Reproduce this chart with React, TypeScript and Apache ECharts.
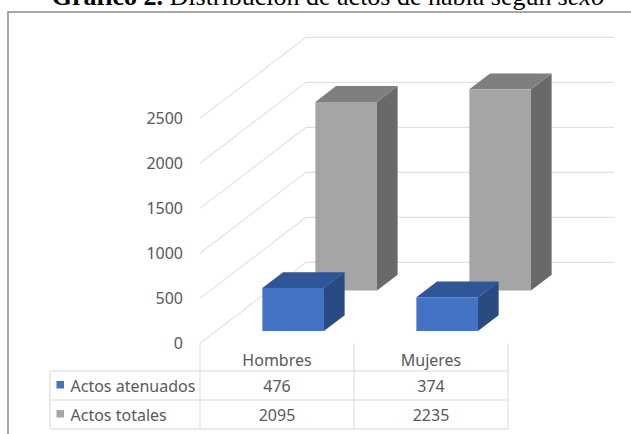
import React, { useEffect, useRef } from "react";
import * as echarts from "echarts";

// Data
const categories = ["Hombres", "Mujeres"];
const seriesNames = ["Actos atenuados", "Actos totales"];
const actosAtenuados = [476, 374];
const actosTotales = [2095, 2235];
const yTicks = [0, 500, 1000, 1500, 2000, 2500];

const seriesValues = [actosAtenuados, actosTotales];

// Styling / 3D projection
const DEPTH_X = 106;
const DEPTH_Y = -81;
const BAR_WIDTH_RATIO = 0.4;
const BAR_DEPTH = 0.195;
const ROW_CENTERS = [0.25, 0.75];
const FACE_COLORS = [
  { front: "#4472C4", top: "#30569A", side: "#2A4A82" },
  { front: "#A5A5A5", top: "#7F7F7F", side: "#696969" },
];
const GRID_COLOR = "#d9d9d9";
const TEXT_COLOR = "#595959";
const FONT = "Noto Sans";
const FONT_SIZE = 16;
const HEADER_H = 27.7;
const ROW_H = 29;
const LEGEND_COL_W = 150;

function wallRenderItem(params: any, api: any) {
  const v = api.value(1);
  const band = api.size([1, 0])[0];
  const first = api.coord([0, v]);
  const last = api.coord([categories.length - 1, v]);
  const x0 = first[0] - band / 2;
  const x1 = last[0] + band / 2;
  const y = first[1];
  return {
    type: "polyline",
    shape: {
      points: [
        [x0, y],
        [x0 + DEPTH_X, y + DEPTH_Y],
        [x1 + DEPTH_X, y + DEPTH_Y],
      ],
    },
    style: { stroke: GRID_COLOR, lineWidth: 1, fill: "none" },
    silent: true,
  };
}

function makeBarRenderItem(row: number) {
  return function (params: any, api: any) {
    const cat = api.value(0);
    const val = api.value(1);
    const band = api.size([1, 0])[0];
    const base = api.coord([cat, 0]);
    const topP = api.coord([cat, val]);
    const w = band * BAR_WIDTH_RATIO;
    const f = ROW_CENTERS[row] - BAR_DEPTH / 2;
    const xL = base[0] - w / 2 + f * DEPTH_X;
    const yB = base[1] + f * DEPTH_Y;
    const yT = topP[1] + f * DEPTH_Y;
    const dx = BAR_DEPTH * DEPTH_X;
    const dy = BAR_DEPTH * DEPTH_Y;
    const c = FACE_COLORS[row];
    return {
      type: "group",
      children: [
        {
          type: "polygon",
          shape: {
            points: [
              [xL + w, yT],
              [xL + w, yB],
              [xL + w + dx, yB + dy],
              [xL + w + dx, yT + dy],
            ],
          },
          style: { fill: c.side },
        },
        {
          type: "polygon",
          shape: {
            points: [
              [xL, yT],
              [xL + w, yT],
              [xL + w + dx, yT + dy],
              [xL + dx, yT + dy],
            ],
          },
          style: { fill: c.top },
        },
        {
          type: "rect",
          shape: { x: xL, y: yT, width: w, height: yB - yT },
          style: { fill: c.front },
        },
      ],
    };
  };
}

function tableFrameRenderItem(params: any, api: any) {
  const band = api.size([1, 0])[0];
  const first = api.coord([0, 0]);
  const last = api.coord([categories.length - 1, 0]);
  const floorY = first[1];
  const x0 = first[0] - band / 2;
  const x1 = last[0] + band / 2;
  const xl = x0 - LEGEND_COL_W;
  const tableTop = floorY + HEADER_H;
  const tableBottom = tableTop + ROW_H * seriesNames.length;
  const lineStyle = { stroke: GRID_COLOR, lineWidth: 1 };
  const children: any[] = [];
  for (let r = 0; r <= seriesNames.length; r++) {
    const y = tableTop + r * ROW_H;
    children.push({ type: "line", shape: { x1: xl, y1: y, x2: x1, y2: y }, style: lineStyle });
  }
  children.push({ type: "line", shape: { x1: xl, y1: tableTop, x2: xl, y2: tableBottom }, style: lineStyle });
  for (let i = 0; i <= categories.length; i++) {
    const x = x0 + i * band;
    children.push({ type: "line", shape: { x1: x, y1: floorY, x2: x, y2: tableBottom }, style: lineStyle });
  }
  return { type: "group", children };
}

function tableRowRenderItem(params: any, api: any) {
  const s = api.value(1);
  const band = api.size([1, 0])[0];
  const first = api.coord([0, 0]);
  const floorY = first[1];
  const x0 = first[0] - band / 2;
  const xl = x0 - LEGEND_COL_W;
  const cy = floorY + HEADER_H + s * ROW_H + ROW_H / 2;
  const children: any[] = [
    {
      type: "rect",
      shape: { x: xl + 6.5, y: cy - 4.5, width: 7.5, height: 7.5 },
      style: { fill: FACE_COLORS[s].front },
    },
    {
      type: "text",
      x: xl + 20.5,
      y: cy,
      style: {
        text: seriesNames[s],
        fill: TEXT_COLOR,
        fontSize: FONT_SIZE,
        fontFamily: FONT,
        align: "left",
        verticalAlign: "middle",
      },
    },
  ];
  categories.forEach((_, i) => {
    const cx = api.coord([i, 0])[0];
    children.push({
      type: "text",
      x: cx,
      y: cy,
      style: {
        text: String(seriesValues[s][i]),
        fill: TEXT_COLOR,
        fontSize: FONT_SIZE,
        fontFamily: FONT,
        align: "center",
        verticalAlign: "middle",
      },
    });
  });
  return { type: "group", children };
}

export default function App() {
  const ref = useRef<HTMLDivElement>(null);

  useEffect(() => {
    if (!ref.current) return;
    const chart = echarts.init(ref.current, null, { renderer: "svg" });
    const serif = "Liberation Serif";
    chart.setOption({
      animation: false,
      backgroundColor: "#ffffff",
      grid: { left: 200, right: 123, top: 118.3, bottom: 90.7 },
      xAxis: {
        type: "category",
        data: categories,
        axisLine: { show: false },
        axisTick: { show: false },
        axisLabel: {
          color: TEXT_COLOR,
          fontSize: FONT_SIZE,
          fontFamily: FONT,
          margin: 9,
        },
        splitLine: { show: false },
      },
      yAxis: {
        type: "value",
        min: 0,
        max: 2500,
        interval: 500,
        axisLine: { show: false },
        axisTick: { show: false },
        splitLine: { show: false },
        axisLabel: {
          color: TEXT_COLOR,
          fontSize: FONT_SIZE,
          fontFamily: FONT,
          margin: 17,
          formatter: (v: number) => String(v),
        },
      },
      graphic: [
        {
          type: "rect",
          z: -10,
          shape: { x: 8, y: 12, width: 700, height: 500 },
          style: { fill: "none", stroke: "#8c8c8c", lineWidth: 1.5 },
        },
        {
          type: "text",
          x: 328,
          y: 9,
          style: {
            text: "{b|Gráfico 2.} Distribución de actos de habla según {i|sexo}",
            fill: "#000000",
            fontSize: 26,
            fontFamily: serif,
            align: "center",
            verticalAlign: "bottom",
            rich: {
              b: { fontWeight: "bold", fontSize: 26, fontFamily: serif, fill: "#000000" },
              i: { fontStyle: "italic", fontSize: 26, fontFamily: serif, fill: "#000000" },
            },
          },
        },
      ],
      series: [
        {
          type: "custom",
          name: "wall",
          z: 1,
          silent: true,
          renderItem: wallRenderItem,
          encode: { x: 0, y: 1 },
          data: yTicks.map((v) => [0, v]),
        },
        {
          type: "custom",
          name: seriesNames[1],
          z: 2,
          renderItem: makeBarRenderItem(1),
          encode: { x: 0, y: 1 },
          data: actosTotales.map((v, i) => [i, v]),
        },
        {
          type: "custom",
          name: seriesNames[0],
          z: 3,
          renderItem: makeBarRenderItem(0),
          encode: { x: 0, y: 1 },
          data: actosAtenuados.map((v, i) => [i, v]),
        },
        {
          type: "custom",
          name: "tableFrame",
          z: 1,
          silent: true,
          renderItem: tableFrameRenderItem,
          encode: { x: 0, y: 1 },
          data: [[0, 0]],
        },
        {
          type: "custom",
          name: "tableRows",
          z: 4,
          silent: true,
          renderItem: tableRowRenderItem,
          encode: { x: 0, y: 1 },
          data: seriesNames.map((_, s) => [0, s]),
        },
      ],
    });
    return () => chart.dispose();
  }, []);

  return (
    <div
      ref={ref}
      style={{ position: "fixed", left: 0, top: 0, width: 631, height: 434 }}
    />
  );
}
